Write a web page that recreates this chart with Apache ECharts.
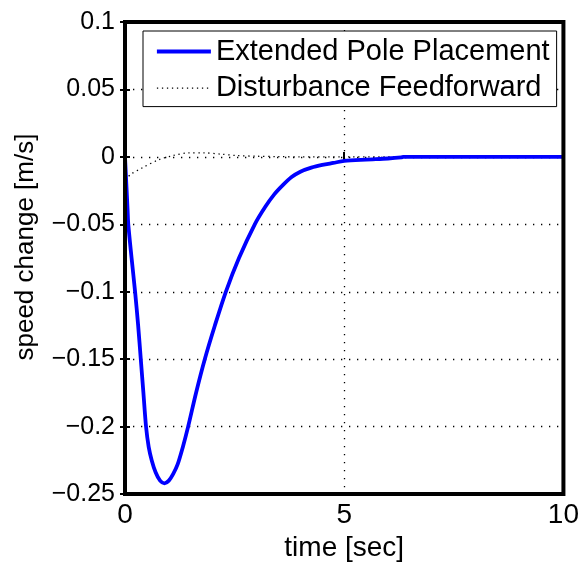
<!DOCTYPE html>
<html>
<head>
<meta charset="utf-8">
<script src="https://cdn.jsdelivr.net/npm/echarts@6/dist/echarts.min.js"></script>
<style>
html,body{margin:0;padding:0;background:#fff;}
#chart{width:582px;height:567px;}
</style>
</head>
<body>
<div id="chart"></div>
<script>
// ---- data ----
var seriesNames = ['Extended Pole Placement', 'Disturbance Feedforward'];
var eppTime = [0, 0.03, 0.06, 0.075, 0.15, 0.23, 0.3, 0.36, 0.42, 0.48, 0.54, 0.61, 0.7, 0.8, 0.9, 1.0, 1.1, 1.2, 1.32, 1.44, 1.62, 1.82, 2.05, 2.3, 2.6, 2.96, 3.2, 3.4, 3.6, 3.8, 4.0, 4.25, 4.5, 4.75, 5.0, 5.5, 6.0, 6.3, 6.35, 7, 8, 9, 10];
var eppValue = [0, -0.02, -0.04, -0.05, -0.075, -0.1, -0.125, -0.15, -0.175, -0.2, -0.215, -0.225, -0.234, -0.24, -0.242, -0.24, -0.235, -0.228, -0.215, -0.2, -0.175, -0.15, -0.125, -0.1, -0.075, -0.05, -0.037, -0.028, -0.021, -0.015, -0.011, -0.008, -0.006, -0.0045, -0.003, -0.002, -0.0012, -0.0004, 0, 0, 0, 0, 0];
var dffTime = [0, 0.13, 0.4, 0.78, 1.1, 1.45, 1.8, 2.2, 2.55, 3.0, 3.5, 4, 5, 6, 7, 8, 9, 10];
var dffValue = [-0.017, -0.013, -0.008, -0.002, 0.001, 0.003, 0.003, 0.002, 0.001, 0.0005, 0.0002, 0, 0, 0, 0, 0, 0, 0];
var xTickLabels = ['0', '5', '10'];
var yTickLabels = ['\u22120.25', '\u22120.2', '\u22120.15', '\u22120.1', '\u22120.05', '0', '0.05', '0.1'];
var xMin = 0, xMax = 10, xStep = 5;
var yMin = -0.25, yMax = 0.1, yStep = 0.05;
var xTitle = 'time [sec]';
var yTitle = 'speed change [m/s]';

function zip(a, b) { return a.map(function (v, i) { return [v, b[i]]; }); }

var FONT = '"Liberation Sans", Arial, Helvetica, sans-serif';
var chart = echarts.init(document.getElementById('chart'), null, {renderer: 'canvas'});

var gridDash = {color: '#000', width: 1.3, type: [1.3, 6.7]};
var eppLine = {color: '#0000ff', width: 3.8};
var dffLine = {color: '#000', width: 1.3, type: [1.3, 3.7]};

chart.setOption({
  animation: false,
  backgroundColor: '#fff',
  grid: {left: 125, right: 18, top: 22, bottom: 67, show: true, borderColor: '#000', borderWidth: 4, backgroundColor: 'transparent', z: 10},
  legend: {
    data: [
      {name: seriesNames[0], lineStyle: {width: 3.8}},
      {name: seriesNames[1], lineStyle: {width: 1.3}}
    ],
    orient: 'vertical',
    left: 143, top: 31,
    itemWidth: 54, itemHeight: 14,
    itemGap: 7.6,
    padding: [6, 7, 4, 12],
    backgroundColor: '#fff',
    borderColor: '#000', borderWidth: 1,
    itemStyle: {opacity: 0},
    textStyle: {fontFamily: FONT, fontSize: 29, lineHeight: 29, color: '#000'},
    z: 20
  },
  xAxis: [{
    type: 'value', min: xMin, max: xMax, interval: xStep, position: 'bottom',
    name: xTitle, nameLocation: 'middle', nameGap: 35,
    nameTextStyle: {fontFamily: FONT, fontSize: 28, color: '#000'},
    axisLine: {show: false},
    axisTick: {show: true, inside: true, length: 5, lineStyle: {color: '#000', width: 2}},
    axisLabel: {margin: 7, fontFamily: FONT, fontSize: 28, color: '#000',
      formatter: function (v) { return xTickLabels[Math.round((v - xMin) / xStep)]; }},
    splitLine: {show: true, lineStyle: gridDash}
  }, {
    type: 'value', min: xMin, max: xMax, interval: xStep, position: 'top',
    axisLine: {show: false},
    axisTick: {show: true, inside: true, length: 5, lineStyle: {color: '#000', width: 2}},
    axisLabel: {show: false}, splitLine: {show: false}
  }],
  yAxis: [{
    type: 'value', min: yMin, max: yMax, interval: yStep, position: 'left',
    name: yTitle, nameLocation: 'middle', nameGap: 86, nameRotate: 90,
    nameTextStyle: {fontFamily: FONT, fontSize: 26, color: '#000', padding: [0, 0, 0, 22]},
    axisLine: {show: false},
    axisTick: {show: true, inside: true, length: 5, lineStyle: {color: '#000', width: 2}},
    axisLabel: {margin: 10, fontFamily: FONT, fontSize: 25, color: '#000',
      formatter: function (v) { return yTickLabels[Math.round((v - yMin) / yStep)]; }},
    splitLine: {show: true, lineStyle: gridDash}
  }, {
    type: 'value', min: yMin, max: yMax, interval: yStep, position: 'right',
    axisLine: {show: false},
    axisTick: {show: true, inside: true, length: 5, lineStyle: {color: '#000', width: 2}},
    axisLabel: {show: false}, splitLine: {show: false}
  }],
  series: [{
    name: seriesNames[0], type: 'line', xAxisIndex: 0, yAxisIndex: 0,
    data: zip(eppTime, eppValue), symbol: 'none', smooth: 0.3,
    lineStyle: eppLine, itemStyle: {color: '#0000ff'}, z: 3
  }, {
    name: seriesNames[1], type: 'line', xAxisIndex: 0, yAxisIndex: 0,
    data: zip(dffTime, dffValue), symbol: 'none', smooth: 0.3,
    lineStyle: dffLine, itemStyle: {color: '#000'}, z: 2
  }]
});
</script>
</body>
</html>
